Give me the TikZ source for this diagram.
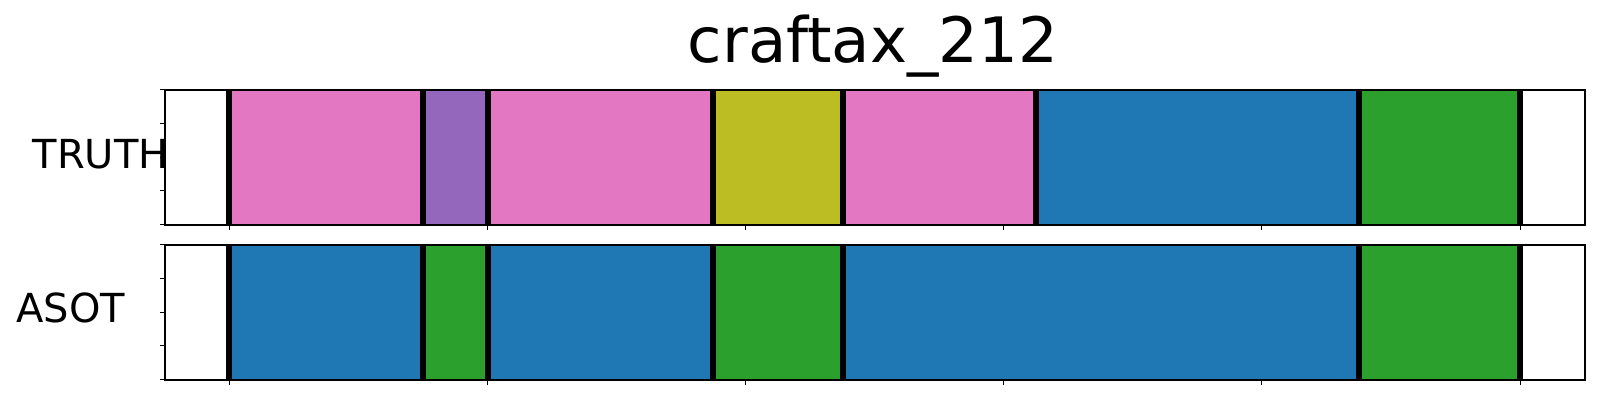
\documentclass[tikz,border=0pt]{standalone}
\usepackage{fontspec}
\setmainfont{DejaVu Sans}
\definecolor{tabpink}{HTML}{E377C2}
\definecolor{tabpurple}{HTML}{9467BD}
\definecolor{tabolive}{HTML}{BCBD22}
\definecolor{tabblue}{HTML}{1F77B4}
\definecolor{tabgreen}{HTML}{2CA02C}
\begin{document}
\begin{tikzpicture}[x=0.5pt, y=-0.5pt,
    segline/.style={line width=2.8pt, black},
    frame/.style={line width=0.7pt, black},
    tick/.style={line width=0.5pt, black}]
        \useasboundingbox (0,0) rectangle (1600,400);
        
        % truth segments
        \fill[tabpink] (229,90) rectangle (423,225);
        \fill[tabpurple] (423,90) rectangle (488,225);
        \fill[tabpink] (488,90) rectangle (713,225);
        \fill[tabolive] (713,90) rectangle (843,225);
        \fill[tabpink] (843,90) rectangle (1036,225);
        \fill[tabblue] (1036,90) rectangle (1359,225);
        \fill[tabgreen] (1359,90) rectangle (1520,225);
        \foreach \x in {229,423,488,713,843,1036,1359,1520}
            \draw[segline] (\x,90) -- (\x,225);
        
        % asot segments
        \fill[tabblue] (229,245) rectangle (423,380);
        \fill[tabgreen] (423,245) rectangle (488,380);
        \fill[tabblue] (488,245) rectangle (713,380);
        \fill[tabgreen] (713,245) rectangle (843,380);
        \fill[tabblue] (843,245) rectangle (1359,380);
        \fill[tabgreen] (1359,245) rectangle (1520,380);
        \foreach \x in {229,423,488,713,843,1359,1520}
            \draw[segline] (\x,245) -- (\x,380);
        
        % ticks
        \foreach \y in {90,124,158,191,225}
            \draw[tick] (165,\y) -- (160,\y);
        \foreach \y in {245,279,313,346,380}
            \draw[tick] (165,\y) -- (160,\y);
        \foreach \x in {229,487.2,745.4,1003.6,1261.8,1520} {
            \draw[tick] (\x,225) -- (\x,230);
            \draw[tick] (\x,380) -- (\x,385);
        }
        
        \draw[frame] (165,90) rectangle (1585,225);
        \draw[frame] (165,245) rectangle (1585,380);
        
        \node[anchor=base, inner sep=0pt, font=\fontsize{31.3}{38}\selectfont] (title) at (873,63) {craftax\_212};
        \node[anchor=base east, inner sep=0pt, font=\fontsize{20}{24}\selectfont] (truth) at (169,169) {TRUTH};
        \node[anchor=base west, inner sep=0pt, font=\fontsize{20}{24}\selectfont] (asot) at (16,323) {ASOT};
    \end{tikzpicture}
\end{document}
